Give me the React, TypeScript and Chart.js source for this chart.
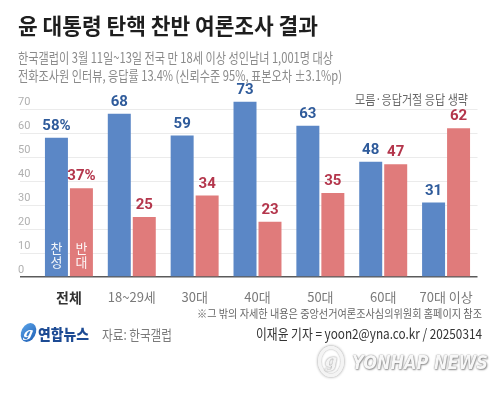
import React, { useEffect, useLayoutEffect, useRef } from "react";
import { Chart, registerables } from "chart.js";

Chart.register(...registerables);

const categories = ["전체", "18~29세", "30대", "40대", "50대", "60대", "70대 이상"];
const approve = [58, 68, 59, 73, 63, 48, 31];
const oppose = [37, 25, 34, 23, 35, 47, 62];
const approveLabels = ["58%", "68", "59", "73", "63", "48", "31"];
const opposeLabels = ["37%", "25", "34", "23", "35", "47", "62"];
const seriesNames = ["찬성", "반대"];

const BLUE = "#5b87c6";
const RED = "#e07b7b";
const BLUE_TXT = "#2f5b9b";
const RED_TXT = "#b4364c";
const KFONT = "'Noto Sans CJK KR', 'Noto Sans', sans-serif";

type FitProps = {
  x: number;
  y: number;
  w: number;
  size: number;
  weight?: number | string;
  color: string;
  align?: "left" | "right";
  style?: React.CSSProperties;
  children: React.ReactNode;
};

function FitText({ x, y, w, size, weight = 400, color, align = "left", style, children }: FitProps) {
  const ref = useRef<HTMLSpanElement>(null);
  useLayoutEffect(() => {
    const el = ref.current;
    if (!el) return;
    el.style.transform = "translateY(-50%)";
    const nat = el.getBoundingClientRect().width;
    const k = nat > 0 ? w / nat : 1;
    el.style.transform = `translateY(-50%) scaleX(${k})`;
  });
  return (
    <span
      ref={ref}
      style={{
        position: "absolute",
        left: align === "left" ? x : x - w,
        top: y,
        whiteSpace: "nowrap",
        fontFamily: KFONT,
        fontSize: size,
        fontWeight: weight as any,
        color,
        lineHeight: 1,
        transformOrigin: "left center",
        display: "inline-block",
        ...style,
      }}
    >
      {children}
    </span>
  );
}

const labelPlugin = {
  id: "valueLabels",
  afterDatasetsDraw(chart: any) {
    const ctx = chart.ctx;
    ctx.save();
    ctx.font = "bold 15px Roboto, 'Noto Sans', sans-serif";
    ctx.textAlign = "center";
    ctx.textBaseline = "bottom";
    const sets = [
      { idx: 0, labels: approveLabels, color: BLUE_TXT },
      { idx: 1, labels: opposeLabels, color: RED_TXT },
    ];
    sets.forEach((s) => {
      const meta = chart.getDatasetMeta(s.idx);
      meta.data.forEach((el: any, i: number) => {
        ctx.fillStyle = s.color;
        ctx.fillText(s.labels[i], el.x, el.y - 4);
      });
    });
    // series names inside first group bars
    ctx.font = `13px ${KFONT}`;
    ctx.textBaseline = "middle";
    ctx.fillStyle = "rgba(255,255,255,0.92)";
    [0, 1].forEach((d) => {
      const el: any = chart.getDatasetMeta(d).data[0];
      const base = chart.scales.y.getPixelForValue(0);
      const name = seriesNames[d];
      ctx.fillText(name[0], el.x, base - 29);
      ctx.fillText(name[1], el.x, base - 15);
    });
    ctx.restore();
  },
};

function ChartCanvas() {
  const ref = useRef<HTMLCanvasElement>(null);
  useEffect(() => {
    if (!ref.current) return;
    const chart = new Chart(ref.current, {
      type: "bar",
      data: {
        labels: categories,
        datasets: [
          { label: seriesNames[0], data: approve, backgroundColor: BLUE },
          { label: seriesNames[1], data: oppose, backgroundColor: RED },
        ],
      },
      options: {
        animation: false,
        responsive: false,
        devicePixelRatio: 1,
        layout: { padding: { left: 18, right: 22.5, top: 94.6, bottom: 86 } },
        datasets: { bar: { categoryPercentage: 0.795, barPercentage: 0.92 } },
        plugins: { legend: { display: false }, tooltip: { enabled: false } },
        scales: {
          x: {
            grid: { display: false },
            border: { display: false },
            ticks: {
              padding: 4,
              color: (c: any) => (c.index === 0 ? "#333" : "#7a7a7a"),
              font: (c: any) =>
                c.index === 0
                  ? { family: KFONT, size: 14, weight: "bold" }
                  : { family: KFONT, size: 13 },
            },
            afterFit: (s: any) => {
              s.height = 30;
            },
          },
          y: {
            min: 0,
            max: 76,
            border: { display: false },
            grid: {
              color: (c: any) => (c.tick && c.tick.value === 0 ? "#5a5a5a" : "#ebebeb"),
              tickColor: (c: any) => (c.tick && c.tick.value === 0 ? "#5a5a5a" : "#ebebeb"),
              lineWidth: (c: any) => (c.tick && c.tick.value === 0 ? 1.5 : 1),
              drawTicks: true,
              tickLength: 17.5,
            },
            ticks: {
              stepSize: 10,
              includeBounds: false,
              color: "#b0b0b0",
              font: { family: "Roboto, 'Noto Sans', sans-serif", size: 11 },
              crossAlign: "far",
              labelOffset: -7,
              padding: 0,
            },
            afterFit: (s: any) => {
              s.width = 19.5;
            },
          },
        },
      },
      plugins: [labelPlugin],
    } as any);
    return () => chart.destroy();
  }, []);
  return (
    <canvas
      ref={ref}
      width={500}
      height={393}
      style={{ position: "absolute", left: 0, top: 0, width: 500, height: 393 }}
    />
  );
}

export default function App() {
  return (
    <div
      style={{
        position: "absolute",
        left: 0,
        top: 0,
        width: 500,
        height: 393,
        background: "#fff",
        overflow: "hidden",
      }}
    >
      <ChartCanvas />
      <FitText x={18} y={24} w={300} size={22} weight={700} color="#1e1e1e">
        윤 대통령 탄핵 찬반 여론조사 결과
      </FitText>
      <FitText x={18} y={57} w={315} size={14} color="#8a8a8a">
        한국갤럽이 3월 11일~13일 전국 만 18세 이상 성인남녀 1,001명 대상
      </FitText>
      <FitText x={18} y={75} w={324} size={14} color="#8a8a8a">
        전화조사원 인터뷰, 응답률 13.4% (신뢰수준 95%, 표본오차 ±3.1%p)
      </FitText>
      <FitText x={468} y={98} w={113} size={13} color="#666" align="right">
        모름·응답거절 응답 생략
      </FitText>
      <FitText x={482} y={313} w={285} size={11} color="#666" align="right">
        ※그 밖의 자세한 내용은 중앙선거여론조사심의위원회 홈페이지 참조
      </FitText>
      <FitText x={482} y={333} w={226} size={14} color="#333" align="right">
        이재윤 기자 = yoon2@yna.co.kr / 20250314
      </FitText>
      <FitText x={102} y={334} w={70} size={14} color="#7a7a7a">
        자료: 한국갤럽
      </FitText>
      <div
        style={{
          position: "absolute",
          left: 21,
          top: 323,
          width: 15,
          height: 19,
          borderRadius: "50%",
          background: "linear-gradient(135deg,#5aa3e8,#1f5fb5)",
          transform: "skewX(-12deg)",
          color: "#fff",
          fontFamily: "'DejaVu Serif', serif",
          fontStyle: "italic",
          fontWeight: 700,
          fontSize: 13,
          lineHeight: "19px",
          textAlign: "center",
        }}
      >
        g
      </div>
      <FitText x={38} y={333} w={51} size={15} weight={900} color="#1d4b94">
        연합뉴스
      </FitText>
      <div
        style={{
          position: "absolute",
          left: 318,
          top: 346,
          width: 26,
          height: 31,
          borderRadius: "50%",
          border: "3px solid #f4f4f4",
          boxSizing: "border-box",
          boxShadow: "0 0 3px #888, inset 0 0 2px #999",
          color: "#f4f4f4",
          fontFamily: "'DejaVu Serif', serif",
          fontStyle: "italic",
          fontWeight: 700,
          fontSize: 18,
          lineHeight: "24px",
          textAlign: "center",
          textShadow: "0 0 2px #777",
        }}
      >
        g
      </div>
      <FitText
        x={352}
        y={362}
        w={136}
        size={20}
        weight={900}
        color="#f7f7f7"
        style={{ fontFamily: "'DejaVu Sans', sans-serif", fontStyle: "italic", textShadow: "0 0 1.5px #666, 1px 1px 2px #999" }}
      >
        YONHAP NEWS
      </FitText>
    </div>
  );
}
